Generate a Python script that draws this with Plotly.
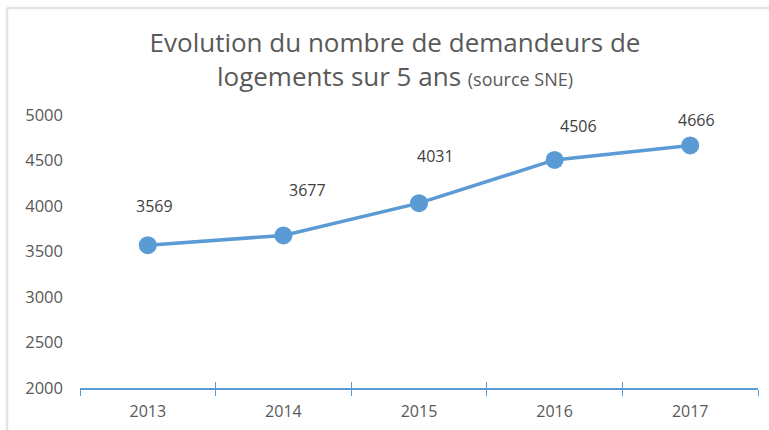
import plotly.graph_objects as go

years = ["2013", "2014", "2015", "2016", "2017"]
demandeurs = [3569, 3677, 4031, 4506, 4666]
y_ticks = [2000, 2500, 3000, 3500, 4000, 4500, 5000]
# pixel offsets of the data labels relative to their points (label placement)
label_dx = [7, 24, 16, 24, 6]
label_dy = [39, 45, 47, 34, 25]

BLUE = "#5B9BD5"
GREY = "#595959"
FONT = "Open Sans"

fig = go.Figure()
fig.add_trace(go.Scatter(
    x=years, y=demandeurs, mode="lines+markers",
    line=dict(color=BLUE, width=3.5),
    marker=dict(color=BLUE, size=18),
    showlegend=False, hoverinfo="x+y",
))
# invisible trace on an overlay axis that draws the upper half of the crossing ticks
fig.add_trace(go.Scatter(x=years, y=demandeurs, xaxis="x2", mode="markers",
                         marker=dict(opacity=0), showlegend=False, hoverinfo="skip"))

for i, (v, dx, dy) in enumerate(zip(demandeurs, label_dx, label_dy)):
    fig.add_annotation(x=i, y=v, xref="x", yref="y", text=str(v), showarrow=False,
                       xshift=dx, yshift=dy,
                       font=dict(family=FONT, size=16, color="#404040"))

fig.update_layout(
    width=769, height=430,
    margin=dict(l=80, r=11, t=115, b=42, autoexpand=False),
    paper_bgcolor="white", plot_bgcolor="white",
    title=dict(
        text="Evolution du nombre de demandeurs de<br>logements sur 5 ans <span style='font-size:18px'>(source SNE)</span>",
        x=395/769, xanchor="center", xref="container",
        y=1 - 52/430, yanchor="middle", yref="container",
        font=dict(family=FONT, size=26, color=GREY),
    ),
    xaxis=dict(
        type="category", range=[-0.5, 4.5], automargin=False,
        showline=True, linecolor=BLUE, linewidth=1.5,
        ticks="outside", ticklen=6, tickcolor=BLUE, tickwidth=1.2,
        tickson="boundaries", showgrid=False, zeroline=False,
        tickfont=dict(family=FONT, size=16, color=GREY),
        ticklabelstandoff=8,
    ),
    xaxis2=dict(
        type="category", range=[-0.5, 4.5], overlaying="x", side="bottom",
        automargin=False, anchor="y",
        showline=False, ticks="inside", ticklen=6, tickcolor=BLUE, tickwidth=1.2,
        tickson="boundaries", showgrid=False, zeroline=False, showticklabels=False,
    ),
    yaxis=dict(
        range=[2000, 5000], tickvals=y_ticks, showline=False, showgrid=False,
        zeroline=False, ticks="", automargin=False,
        tickfont=dict(family=FONT, size=16.5, color=GREY),
        ticklabelstandoff=16,
    ),
)
# light grey frame of the original chart area (pixel positions converted to paper units)
top_y = (388 - 8) / 273
left_x = (7 - 80) / 678
fig.add_shape(type="line", xref="paper", yref="paper", x0=left_x, x1=1.05,
              y0=top_y, y1=top_y, line=dict(color="#E3E3E3", width=2.5))
fig.add_shape(type="line", xref="paper", yref="paper", x0=left_x, x1=left_x,
              y0=top_y, y1=-0.2, line=dict(color="#E3E3E3", width=2.5))

fig.write_html("out.html", config={"displayModeBar": False},
               post_script="document.body.style.margin='0';")
